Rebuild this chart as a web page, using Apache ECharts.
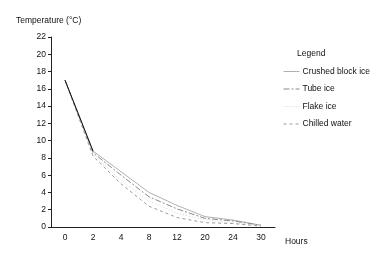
<!DOCTYPE html>
<html><head><meta charset="utf-8">
<script src="https://cdn.jsdelivr.net/npm/echarts@6/dist/echarts.min.js"></script>
<style>html,body{margin:0;padding:0;background:#fff}#c{width:376px;height:254px}</style>
</head><body><div id="c"></div>
<script>
const hours = ['0','2','4','8','12','20','24','30'];
const crushedBlockIce = [17, 8.8, 6.4, 4.0, 2.5, 1.2, 0.8, 0.2];
const tubeIce = [17, 8.6, 6.0, 3.5, 2.1, 1.0, 0.7, 0.2];
const flakeIce = [17, 8.4, 5.4, 3.0, 1.6, 0.8, 0.5, 0.15];
const chilledWater = [17, 8.2, 5.0, 2.4, 1.1, 0.5, 0.4, 0.1];
const yTicks = {min: 0, max: 22, interval: 2};

const font = 'Liberation Sans, Arial, sans-serif';
const chart = echarts.init(document.getElementById('c'), null, {renderer: 'canvas'});
function s(name, data, color, type, width) {
  return {name, type: 'line', data, symbol: 'none', silent: true,
    lineStyle: {color, type, width}, itemStyle: {color}};
}
chart.setOption({
  animation: false,
  backgroundColor: '#fff',
  grid: {left: 51, right: 101, top: 37, bottom: 27},
  xAxis: {type: 'category', data: hours, boundaryGap: true,
    axisLine: {lineStyle: {color: '#222', width: 1}},
    axisTick: {alignWithLabel: true, length: 3, lineStyle: {color: '#222'}},
    axisLabel: {color: '#111', fontSize: 8.5, fontFamily: font, margin: 6}},
  yAxis: {type: 'value', min: yTicks.min, max: yTicks.max, interval: yTicks.interval,
    splitLine: {show: false},
    axisLine: {show: true, lineStyle: {color: '#222', width: 1}},
    axisTick: {show: true, length: 3, lineStyle: {color: '#222'}},
    axisLabel: {color: '#111', fontSize: 8.5, fontFamily: font, margin: 5}},
  legend: {orient: 'vertical', left: 283, top: 67, itemGap: 8.5, itemWidth: 16, itemHeight: 8,
    padding: 0, itemStyle: {opacity: 0}, lineStyle: {width: 1},
    textStyle: {fontSize: 8.5, fontFamily: font, color: '#111', padding: [0, 0, 0, -2]},
    data: ['Crushed block ice', 'Tube ice', 'Flake ice', 'Chilled water']},
  series: [
    s('Crushed block ice', crushedBlockIce, '#b0b0b0', 'solid', 1),
    s('Tube ice', tubeIce, '#8a8a8a', [6, 2, 2, 2], 1),
    s('Flake ice', flakeIce, '#d4d4d4', [1, 2], 1),
    s('Chilled water', chilledWater, '#9a9a9a', [3, 3], 1),
    {type: 'line', data: [17, 8.8], symbol: 'none', silent: true, lineStyle: {color: '#111', width: 1}}
  ],
  graphic: [
    {type: 'text', left: 16, top: 16, style: {text: 'Temperature (°C)', font: '8.5px ' + font, fill: '#111'}},
    {type: 'text', left: 297, top: 49, style: {text: 'Legend', font: '8.5px ' + font, fill: '#111'}},
    {type: 'text', left: 285, top: 237, style: {text: 'Hours', font: '8.5px ' + font, fill: '#111'}}
  ]
});
</script></body></html>
